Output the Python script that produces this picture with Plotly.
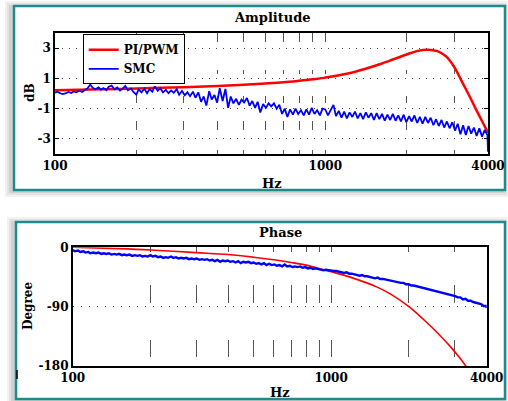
import plotly.graph_objects as go

# ---------------- data ----------------
freq_grid = [100, 102, 105, 107, 110, 112, 115, 117, 120, 123, 126, 129, 132, 135, 138, 141, 145, 148, 151, 155,
             158, 162, 166, 170, 174, 178, 182, 186, 191, 195, 200, 204, 209, 214, 219, 224, 229, 234, 240, 245,
             251, 257, 263, 269, 275, 282, 288, 295, 302, 309, 316, 324, 331, 339, 347, 355, 363, 372, 380, 389,
             398, 407, 417, 427, 437, 447, 457, 468, 479, 490, 501, 513, 525, 537, 550, 562, 575, 589, 603, 617,
             631, 646, 661, 676, 692, 708, 724, 741, 759, 776, 794, 813, 832, 851, 871, 891, 912, 933, 955, 977,
             1000, 1023, 1047, 1072, 1096, 1122, 1148, 1175, 1202, 1230, 1259, 1288, 1318, 1349, 1380, 1413, 1445, 1479, 1514, 1549,
             1585, 1622, 1660, 1698, 1738, 1778, 1820, 1862, 1905, 1950, 1995, 2042, 2089, 2138, 2188, 2239, 2291, 2344, 2399, 2455,
             2512, 2570, 2630, 2692, 2754, 2818, 2884, 2951, 3020, 3090, 3162, 3236, 3311, 3388, 3467, 3548, 3631, 3715, 3802, 3890,
             3981, 4000]

smc_amp_db = [0.05, 0.12, 0.00, -0.04, 0.02, 0.10, 0.03, 0.14, 0.08, 0.18, 0.10, 0.22, 0.35, 0.58, 0.38, 0.28, 0.40, 0.25, 0.36, 0.22,
              0.45, 0.52, 0.28, 0.40, 0.20, 0.32, 0.50, 0.22, 0.34, 0.10, -0.08, 0.28, 0.08, 0.32, 0.02, 0.30, 0.12, 0.47, 0.18, 0.35,
              0.08, 0.25, 0.02, 0.20, 0.05, 0.28, -0.08, 0.18, -0.12, 0.08, -0.18, 0.12, -0.28, 0.08, -0.55, -0.20, -0.80, 0.15, -0.40, -0.10,
              -0.60, 0.35, -0.50, 0.30, -0.95, -0.20, -0.65, -0.35, -0.75, -0.40, -0.60, -0.30, -0.80, -0.50, -0.95, -0.55, -1.25, -0.70, -0.95, -0.65,
              -0.85, -0.65, -1.00, -0.75, -1.35, -1.00, -1.55, -1.05, -1.40, -1.00, -1.35, -1.10, -1.45, -1.05, -1.40, -0.95, -1.35, -1.10, -1.45, -1.00,
              -1.05, -1.45, -1.15, -0.75, -1.50, -1.15, -1.60, -1.20, -1.65, -1.25, -1.55, -1.20, -1.65, -1.30, -1.70, -1.25, -1.60, -1.30, -1.75, -1.30,
              -1.70, -1.35, -1.80, -1.40, -1.75, -1.35, -1.80, -1.45, -1.85, -1.40, -1.90, -1.50, -1.85, -1.45, -1.95, -1.55, -2.00, -1.55, -1.95, -1.60,
              -2.10, -1.70, -2.15, -1.75, -2.25, -1.85, -2.30, -1.90, -2.45, -2.00, -2.70, -2.10, -2.75, -2.15, -2.65, -2.25, -2.80, -2.30, -2.85, -2.40,
              -2.75, -3.85]

smc_phase_deg = [-4, -6, -5, -7, -6, -8, -7, -9, -8, -9, -8, -10, -9, -10, -9, -11, -10, -11, -10, -12,
                 -11, -12, -11, -13, -12, -13, -12, -14, -13, -14, -12, -14, -13, -15, -14, -16, -15, -16, -14, -16,
                 -15, -17, -16, -17, -16, -18, -17, -18, -17, -19, -18, -19, -18, -20, -19, -21, -19, -22, -20, -21,
                 -20, -22, -21, -23, -21, -24, -22, -23, -22, -24, -23, -25, -24, -26, -24, -27, -25, -27, -26, -28,
                 -27, -29, -26, -29, -28, -30, -29, -30, -29, -31, -30, -32, -31, -33, -32, -33, -33, -35, -34, -35,
                 -35, -36, -36, -37, -37, -39, -38, -40, -40, -41, -41, -43, -42, -44, -44, -45, -45, -47, -46, -48,
                 -48, -49, -49, -51, -51, -52, -53, -54, -54, -56, -56, -58, -58, -59, -60, -61, -61, -63, -63, -65,
                 -65, -67, -67, -69, -69, -71, -72, -73, -74, -76, -76, -79, -78, -81, -81, -83, -84, -86, -86, -89,
                 -89, -92]

pi_freq = [100, 150, 200, 300, 400, 500, 600, 700, 800, 900, 1000, 1200, 1400, 1600, 1800, 2000, 2200, 2400,
           2600, 2800, 3000, 3200, 3400, 3600, 3800, 4000]
pi_amp_db = [0.22, 0.28, 0.33, 0.42, 0.50, 0.58, 0.66, 0.74, 0.84, 0.94, 1.05, 1.30, 1.62, 1.95, 2.28, 2.58, 2.82, 2.90,
             2.80, 2.45, 1.75, 0.80, -0.10, -1.00, -1.82, -2.60]

pi_phase_freq = [100, 150, 200, 300, 400, 500, 600, 700, 800, 900, 1000, 1200, 1500, 1700, 2000, 2300, 2600, 2900, 3150, 3350]
pi_phase_deg = [0, -2, -4, -8, -11, -15, -19, -23, -27, -32, -37, -46, -60, -71, -90, -111, -131, -151, -168, -182]

x_ticks = [100, 1000, 4000]
x_minor = [200, 300, 400, 500, 600, 700, 800, 900, 2000, 3000]
amp_ticks = [-3, -1, 1, 3]
phase_ticks = [-180, -90, 0]

# ---------------- figure ----------------
W, H = 508, 401
FONT = "DejaVu Serif"
TEAL = "#1d8b8b"

def px(x):
    return x / W

def py(y):
    return 1 - y / H

fig = go.Figure()
fig.add_trace(go.Scatter(x=pi_freq, y=pi_amp_db, mode="lines", name="PI/PWM",
                         line=dict(color="#ff0000", width=2.5, shape="spline"),
                         xaxis="x", yaxis="y"))
fig.add_trace(go.Scatter(x=freq_grid, y=smc_amp_db, mode="lines", name="SMC",
                         line=dict(color="#0000ff", width=1.8),
                         xaxis="x", yaxis="y"))
fig.add_trace(go.Scatter(x=pi_phase_freq, y=pi_phase_deg, mode="lines", name="PI/PWM",
                         line=dict(color="#ff0000", width=1.6, shape="spline"),
                         xaxis="x2", yaxis="y2", showlegend=False))
fig.add_trace(go.Scatter(x=freq_grid, y=smc_phase_deg, mode="lines", name="SMC",
                         line=dict(color="#0000ff", width=2.4),
                         xaxis="x2", yaxis="y2", showlegend=False))

tickfont = dict(family=FONT, size=12, color="black", weight="bold")

top_dash = "9px,28px,4px,22px,7px,18px,9px,20px,4px,10px"
bot_dash = "5px,33px,18px,37px,17px,30px"

def xaxis(domain, anchor, dash):
    return dict(type="log", domain=domain, anchor=anchor, range=[2, 3.60206],
                tickvals=x_ticks, ticktext=[str(v) for v in x_ticks], tickfont=tickfont,
                showgrid=True, gridcolor="#555555", gridwidth=1, griddash=dash,
                minor=dict(tickvals=x_minor, showgrid=True, gridcolor="#555555", gridwidth=1, griddash=dash, ticks=""),
                showline=True, linecolor="black", linewidth=1.5, mirror=True,
                ticks="", zeroline=False, automargin=False, fixedrange=True)

fig.update_layout(
    width=W, height=H, autosize=False,
    margin=dict(l=0, r=0, t=0, b=0),
    paper_bgcolor="white", plot_bgcolor="white",
    xaxis=xaxis([px(55), px(488)], "y", top_dash),
    yaxis=dict(domain=[py(154), py(33)], anchor="x", range=[-4, 4],
               tickvals=amp_ticks, ticktext=[str(v) for v in amp_ticks], tickfont=tickfont,
               showgrid=True, gridcolor="#444444", gridwidth=1, griddash="1px,6px",
               showline=True, linecolor="black", linewidth=1.5, mirror="ticks",
               ticks="inside", ticklen=4, tickcolor="black",
               zeroline=False, automargin=False, fixedrange=True),
    xaxis2=xaxis([px(72.7), px(486.7)], "y2", bot_dash),
    yaxis2=dict(domain=[py(366), py(247.3)], anchor="x2", range=[-180, 0],
                tickvals=phase_ticks, ticktext=[str(v) for v in phase_ticks], tickfont=tickfont,
                showgrid=True, gridcolor="#444444", gridwidth=1, griddash="1px,7px",
                showline=True, linecolor="black", linewidth=1.5, mirror=True,
                ticks="", zeroline=False, automargin=False, fixedrange=True),
    legend=dict(x=px(82.7), y=py(34.3), xanchor="left", yanchor="top",
                bgcolor="white", bordercolor="black", borderwidth=1,
                font=dict(family=FONT, size=12, color="black", weight="bold"),
                tracegroupgap=0, itemwidth=30),
    showlegend=True,
)

# Panel frames with soft shadows
shapes = []
for (x0, y0, x1, y1) in [(14, 6, 505, 190), (16, 222, 505, 399)]:
    for d, a in [(7, 0.05), (5, 0.06), (3, 0.08)]:
        shapes.append(dict(type="rect", xref="paper", yref="paper", layer="below",
                           x0=px(x0 - d - 2), x1=px(x1 + d - 3), y0=py(y1 + d), y1=py(y0 - d + 2),
                           line=dict(width=0), fillcolor=f"rgba(0,0,0,{a})"))
    shapes.append(dict(type="rect", xref="paper", yref="paper", layer="below",
                       x0=px(x0), x1=px(x1), y0=py(y1), y1=py(y0),
                       line=dict(color=TEAL, width=2.5), fillcolor="white"))
shapes.append(dict(type="line", xref="paper", yref="paper", x0=px(17), x1=px(17), y0=py(379), y1=py(370),
                   line=dict(color="black", width=1.5)))
fig.update_layout(shapes=shapes)

def label(text, x, y, size=13, angle=0):
    return dict(text=text, x=px(x), y=py(y), xref="paper", yref="paper", showarrow=False,
                textangle=angle, xanchor="center", yanchor="middle",
                font=dict(family=FONT, size=size, color="black", weight="bold"))

fig.update_layout(annotations=[
    label("Amplitude", 272, 17, 13),
    label("Hz", 272, 183, 13),
    label("dB", 30, 93, 12, -90),
    label("Phase", 280, 232, 13),
    label("Hz", 280, 392, 13),
    label("Degree", 28, 306, 12, -90),
])

fig.write_html("out.html", config={"displayModeBar": False},
               post_script="document.body.style.margin='0';document.body.style.overflow='hidden';")
